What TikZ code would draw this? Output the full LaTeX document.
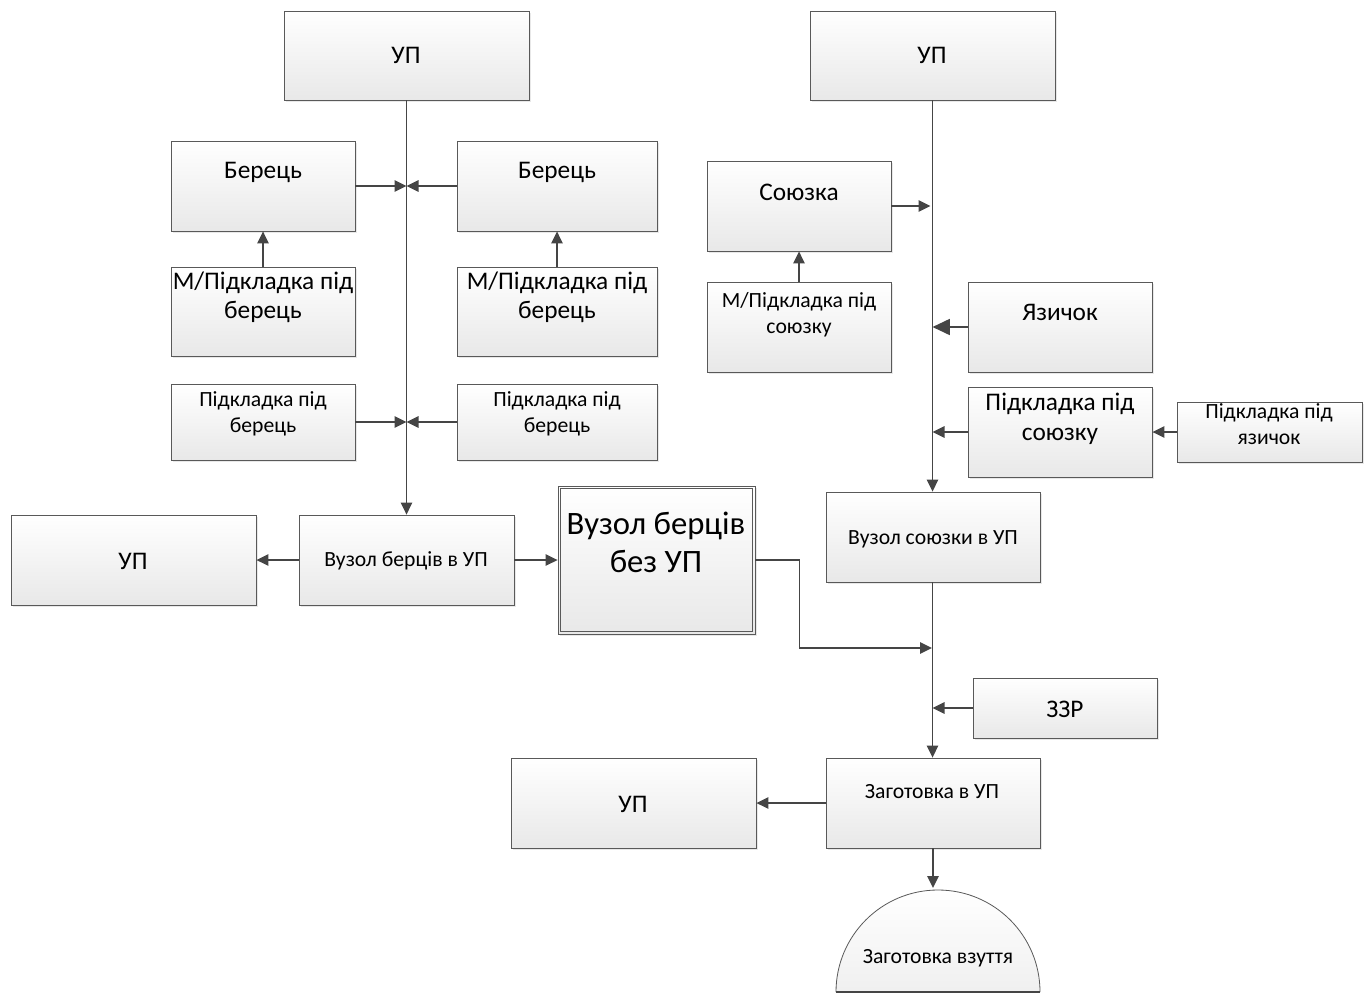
\documentclass[tikz,border=0pt]{standalone}
\usepackage{fontspec}
\setmainfont{Carlito}
\usetikzlibrary{arrows.meta, fit, shadows}
\definecolor{edgegray}{HTML}{595959}
\definecolor{linegray}{HTML}{454545}
\tikzset{
  box/.style={draw=edgegray, line width=0.6pt, inner sep=0pt,
    top color=white, bottom color=black!9,
    drop shadow={shadow xshift=1.5pt, shadow yshift=-1.5pt, fill=black!18}},
  arr/.style={draw=linegray, line width=1.3pt, -{Triangle[length=9pt, width=8.5pt]}},
  bigarr/.style={arr, -{Triangle[length=13pt, width=12pt]}},
  txt/.style={align=center, inner sep=0pt, text=black},
  fs/.style 2 args={font=\fontsize{#1}{#2}\selectfont},
}
\begin{document}
\begin{tikzpicture}[x=0.75pt, y=-0.75pt]
  \useasboundingbox (0,0) rectangle (1370,996);

  % 1. Лівий стовпець: берці
  \node[box, fit={(284,11) (529,100)}] (up1) {};
  \node[txt, fs={19}{23}] (up1t) at (406,55) {УП};
  \node[box, fit={(171,141) (355,231)}] (b1) {};
  \node[txt, fs={19}{23}] (b1t) at (263,172) {Берець};
  \node[box, fit={(457,141) (657,231)}] (b2) {};
  \node[txt, fs={19}{23}] (b2t) at (557,172) {Берець};
  \node[box, fit={(171,267) (355,356)}] (m1) {};
  \node[txt, fs={19}{21.75}] (m1t) at (263,297) {М/Підкладка під\\берець};
  \node[box, fit={(457,267) (657,356)}] (m2) {};
  \node[txt, fs={19}{21.75}] (m2t) at (557,297) {М/Підкладка під\\берець};
  \node[box, fit={(171,384) (355,460)}] (p1) {};
  \node[txt, fs={16.25}{19.5}] (p1t) at (263,414) {Підкладка під\\берець};
  \node[box, fit={(457,384) (657,460)}] (p2) {};
  \node[txt, fs={16.25}{19.5}] (p2t) at (557,414) {Підкладка під\\берець};

  \node[box, fit={(299,515) (514,605)}] (vb) {};
  \node[txt, fs={16.25}{19}] (vbt) at (406,561) {Вузол берців в УП};
  \node[box, fit={(11,515) (256,605)}] (upl) {};
  \node[txt, fs={19}{23}] (uplt) at (133,561) {УП};
  \node[box, fit={(558,486) (755,634)}] (bez) {};
  \draw[edgegray, line width=0.6pt]
    ([shift={(3,3)}]bez.north west) rectangle ([shift={(-3,-3)}]bez.south east);
  \node[txt, fs={24.5}{28.5}] (bezt) at (656,542) {Вузол берців\\без УП};

  % 2. Правий стовпець: союзка
  \node[box, fit={(810,11) (1055,100)}] (up2) {};
  \node[txt, fs={19}{23}] (up2t) at (932,55) {УП};
  \node[box, fit={(707,161) (891,251)}] (soy) {};
  \node[txt, fs={19}{23}] (soyt) at (799,192) {Союзка};
  \node[box, fit={(707,282) (891,372)}] (ms) {};
  \node[txt, fs={16.25}{19.5}] (mst) at (799,315) {М/Підкладка під\\союзку};
  \node[box, fit={(968,282) (1152,372)}] (yaz) {};
  \node[txt, fs={19}{23}] (yazt) at (1060,312) {Язичок};
  \node[box, fit={(968,387) (1152,477)}] (ps) {};
  \node[txt, fs={19}{22.5}] (pst) at (1060,419) {Підкладка під\\союзку};
  \node[box, fit={(1177,402) (1362,462)}] (py) {};
  \node[txt, fs={16.25}{20}] (pyt) at (1269,424) {Підкладка під\\язичок};
  \node[box, fit={(826,492) (1040,582)}] (vs) {};
  \node[txt, fs={16.25}{19}] (vst) at (933,539) {Вузол союзки в УП};
  \node[box, fit={(973,678) (1157,738)}] (zzr) {};
  \node[txt, fs={19}{23}] (zzrt) at (1065,709) {ЗЗР};
  \node[box, fit={(826,758) (1040,848)}] (zag) {};
  \node[txt, fs={16.25}{19}] (zagt) at (932,792) {Заготовка в УП};
  \node[box, fit={(511,758) (756,848)}] (upb) {};
  \node[txt, fs={19}{23}] (upbt) at (633,804) {УП};

  % 3. Заготовка взуття
  \shade[top color=white, bottom color=black!6]
    (836,992) arc[start angle=180, end angle=360, radius=102] -- cycle;
  \draw[edgegray, line width=0.6pt]
    (836,992) arc[start angle=180, end angle=360, radius=102];
  \draw[linegray, line width=1.2pt] (836,992) -- (1040,992);
  \coordinate (zvtop) at (933,888);
  \node[txt, fs={16.25}{19}] (zvt) at (938,958) {Заготовка взуття};

  % 4. З'єднання
  \coordinate (mg) at (932,648);
  \draw[arr] (up1) -- (vb);
  \draw[arr] (b1) -- (b1 -| up1);
  \draw[arr] (b2) -- (b2 -| up1);
  \draw[arr] (m1) -- (b1);
  \draw[arr] (m2) -- (b2);
  \draw[arr] (p1) -- (p1 -| up1);
  \draw[arr] (p2) -- (p2 -| up1);
  \draw[arr] (vb) -- (upl);
  \draw[arr] (vb) -- (bez);
  \draw[arr] (bez.east) -- ++(44,0) |- (mg);
  \draw[arr] (up2) -- (up2 |- vs.north);
  \draw[arr] (soy) -- ([xshift=-1.5pt]soy -| up2);
  \draw[arr] (ms) -- (soy);
  \draw[bigarr] (yaz) -- (yaz -| up2);
  \draw[arr] (ps) -- (ps -| up2);
  \draw[arr] (py) -- (ps);
  \draw[arr] (vs.south -| up2) -- (up2 |- zag.north);
  \draw[arr] (zzr) -- (zzr -| up2);
  \draw[arr] (zag) -- (upb);
  \draw[arr] (zag) -- (zvtop);
\end{tikzpicture}
\end{document}
